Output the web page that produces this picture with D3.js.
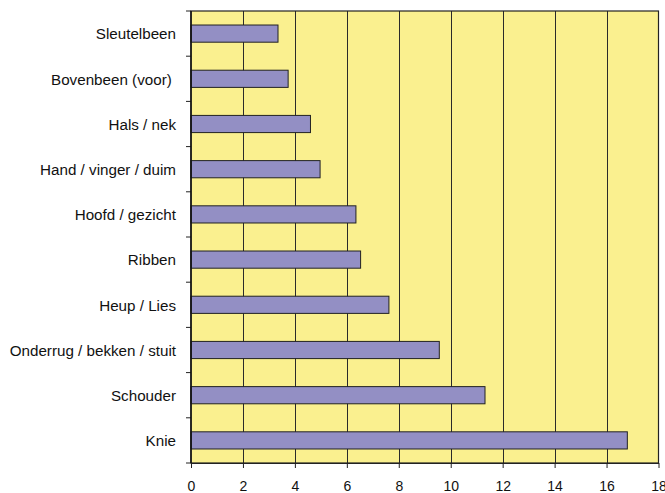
<!DOCTYPE html>
<html><head><meta charset="utf-8">
<script src="https://cdn.jsdelivr.net/npm/d3@7"></script>
<style>body{margin:0;background:#fff}</style>
</head><body>
<svg id="c" width="665" height="493"></svg>
<script>
const categories = ["Sleutelbeen","Bovenbeen (voor) ","Hals / nek","Hand / vinger / duim","Hoofd / gezicht","Ribben","Heup / Lies","Onderrug / bekken / stuit","Schouder","Knie"];
const values = [3.35, 3.74, 4.6, 4.97, 6.35, 6.53, 7.62, 9.56, 11.32, 16.8];
const xTicks = [0,2,4,6,8,10,12,14,16,18];

const svg = d3.select("#c");
const L = 191, R = 658.5, T = 11, B = 463;
const x = d3.scaleLinear().domain([0,18]).range([L,R]);
const y = d3.scaleBand().domain(categories).range([T,B]).paddingInner(0.62).paddingOuter(0.31);

svg.append("rect").attr("x",L).attr("y",T).attr("width",R-L).attr("height",B-T).attr("fill","#FAF08F");

// gridlines
svg.append("g").selectAll("line").data(xTicks.slice(1,-1)).join("line")
  .attr("x1",d=>Math.round(x(d))+0.5).attr("x2",d=>Math.round(x(d))+0.5)
  .attr("y1",T).attr("y2",B).attr("stroke","#2a2a2a").attr("stroke-width",1);

// bars
svg.append("g").selectAll("rect").data(values).join("rect")
  .attr("x",x(0)).attr("y",(d,i)=>y(categories[i]))
  .attr("width",d=>x(d)-x(0)).attr("height",y.bandwidth())
  .attr("fill","#938FC4").attr("stroke","#222").attr("stroke-width",1);

// border
svg.append("rect").attr("x",L).attr("y",T).attr("width",R-L).attr("height",B-T)
  .attr("fill","none").attr("stroke","#222").attr("stroke-width",1.2);

// x axis
const xa = svg.append("g").attr("transform",`translate(0,${B})`)
  .call(d3.axisBottom(x).tickValues(xTicks).tickSize(5).tickSizeOuter(0).tickPadding(13));
xa.select(".domain").attr("stroke","#222");
xa.selectAll("line").attr("stroke","#222");
xa.selectAll("text").attr("font-family","Liberation Sans, Arial, sans-serif").attr("font-size",14).attr("fill","#111");

// y axis: ticks at band boundaries
const bounds = d3.range(categories.length+1).map(i=>T + i*(B-T)/categories.length);
svg.append("g").selectAll("line").data(bounds).join("line")
  .attr("x1",L-5).attr("x2",L).attr("y1",d=>d).attr("y2",d=>d).attr("stroke","#222");
svg.append("line").attr("x1",L).attr("x2",L).attr("y1",T).attr("y2",B).attr("stroke","#111").attr("stroke-width",1.5);

svg.append("g").selectAll("text").data(categories).join("text")
  .attr("x",176).attr("y",d=>y(d)+y.bandwidth()/2).attr("dy","0.38em")
  .attr("text-anchor","end").attr("font-family","Liberation Sans, Arial, sans-serif")
  .style("white-space","pre")
  .attr("font-size",15.2).attr("fill","#111").text(d=>d);
</script>
</body></html>
